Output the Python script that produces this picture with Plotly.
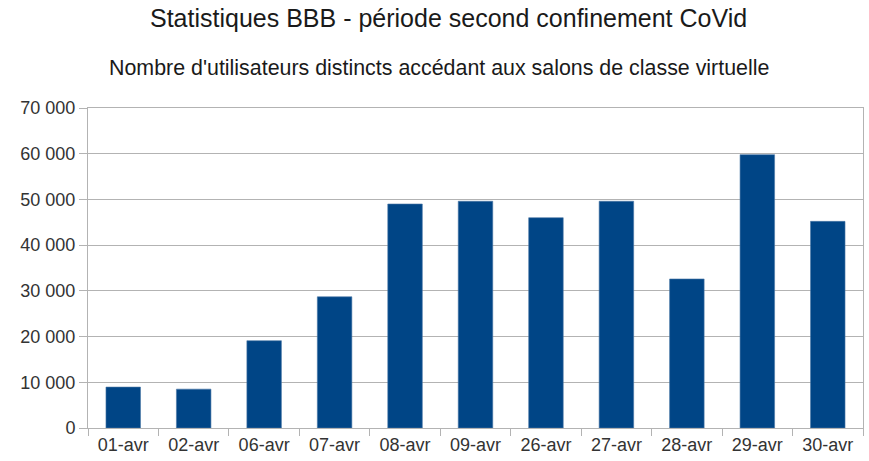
import plotly.graph_objects as go

categories = ["01-avr", "02-avr", "06-avr", "07-avr", "08-avr", "09-avr",
              "26-avr", "27-avr", "28-avr", "29-avr", "30-avr"]
values = [8950, 8500, 19100, 28700, 49000, 49600, 46000, 49600, 32600, 59800, 45200]

title_text = "Statistiques BBB - période second confinement CoVid"
subtitle_text = "Nombre d'utilisateurs distincts accédant aux salons de classe virtuelle"

W, H = 869, 461
ml, mt = 88, 108
mr = W - 863
mb = H - 428
ph = H - mt - mb
pw = W - ml - mr

fig = go.Figure(go.Bar(
    x=categories, y=values,
    marker=dict(color="#004586", line=dict(color="#4a77a6", width=0.6)),
))

font = "Liberation Sans, Arial, sans-serif"
grid = "#b3b3b3"

fig.update_layout(
    width=W, height=H,
    margin=dict(l=ml, r=mr, t=mt, b=mb, autoexpand=False),
    paper_bgcolor="white", plot_bgcolor="white",
    bargap=0.51,
    separators=", ",
    showlegend=False,
    font=dict(family=font, size=18, color="#333333"),
    annotations=[
        dict(text=title_text, xref="paper", yref="paper",
             x=(448 - ml) / pw, y=1 + (mt - 18) / ph, xanchor="center", yanchor="middle",
             showarrow=False, font=dict(family=font, size=25, color="#1a1a1a")),
        dict(text=subtitle_text, xref="paper", yref="paper",
             x=(439 - ml) / pw, y=1 + (mt - 68) / ph, xanchor="center", yanchor="middle",
             showarrow=False, font=dict(family=font, size=21.4, color="#1a1a1a")),
    ],
)

fig.update_yaxes(
    range=[0, 70000], dtick=10000, tickformat=",d", automargin=False,
    showgrid=True, gridcolor=grid, gridwidth=1,
    ticks="outside", ticklen=8, tickcolor=grid,
    showline=True, linecolor=grid, mirror=True,
    zeroline=False, tickfont=dict(size=18, color="#333333"),
)
fig.update_xaxes(
    tickson="boundaries", ticks="outside", ticklen=7, tickcolor=grid,
    showline=True, linecolor=grid, mirror=True, automargin=False,
    tickfont=dict(size=18, color="#333333"),
)

fig.write_html("out.html", config={"displayModeBar": False},
               post_script="document.body.style.margin='0';")
